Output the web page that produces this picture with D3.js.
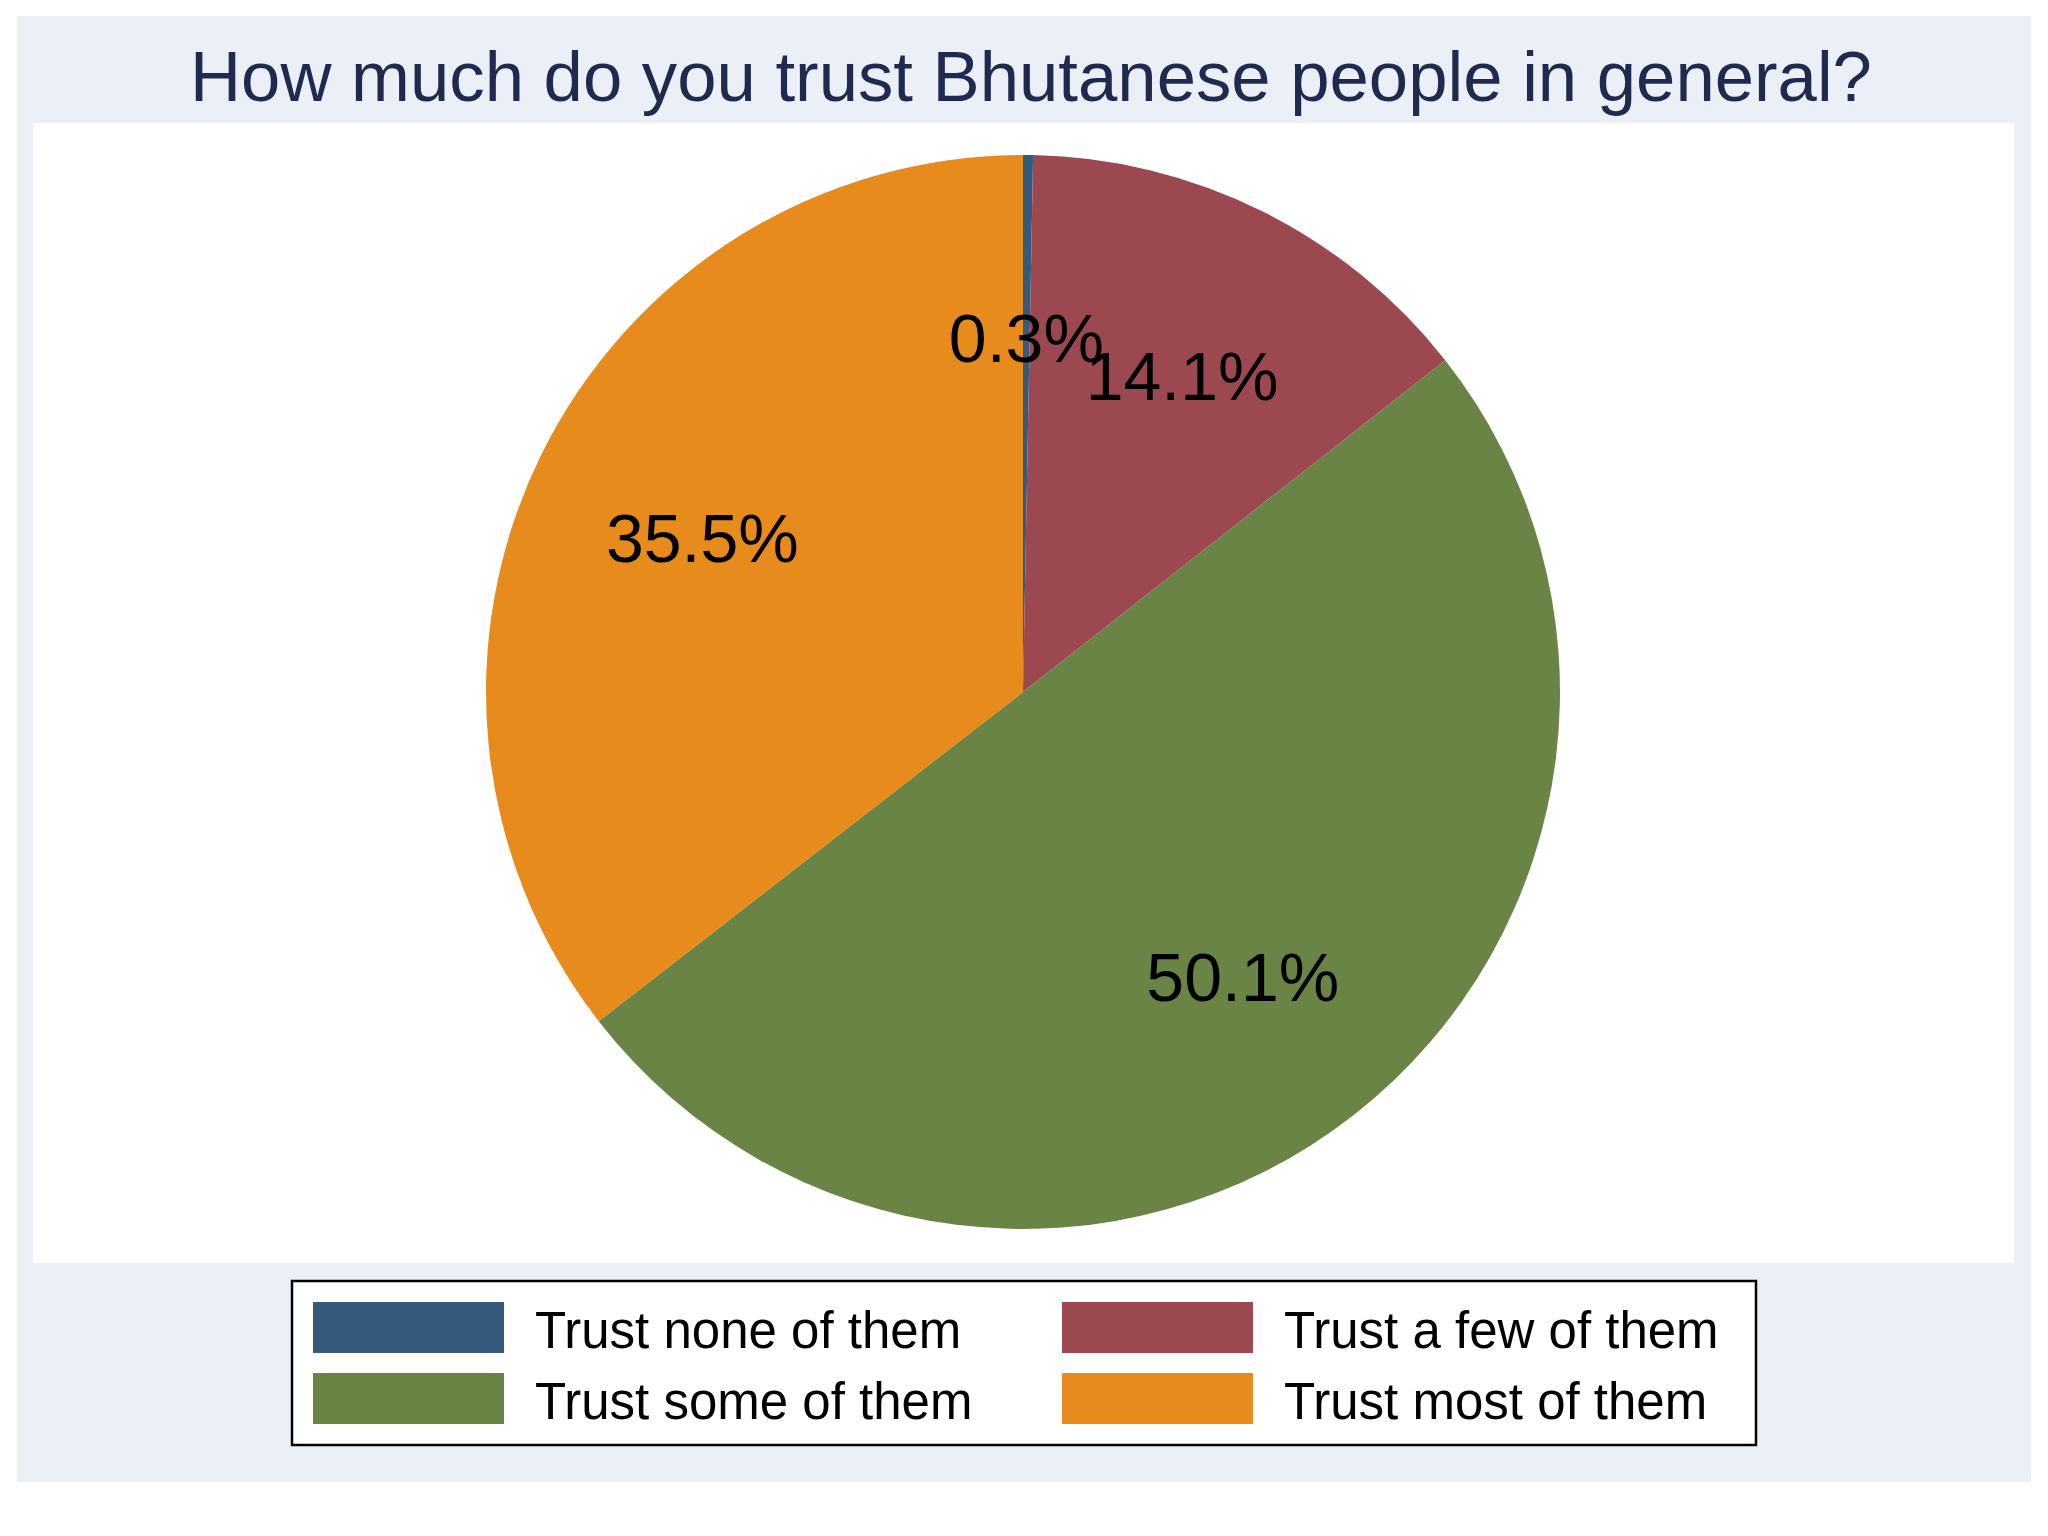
<!DOCTYPE html>
<html>
<head>
<meta charset="utf-8">
<script src="https://cdn.jsdelivr.net/npm/d3@7"></script>
<style>
  body { margin: 0; background: #fff; }
  text { font-family: "Liberation Sans", Arial, sans-serif; }
</style>
</head>
<body>
<div class="chart"></div>
<script>
// data (percent of respondents)
var categories = ["Trust none of them", "Trust a few of them", "Trust some of them", "Trust most of them"];
var shares = [0.3, 14.1, 50.1, 35.5];
var sliceLabels = ["0.3%", "14.1%", "50.1%", "35.5%"];
var colors = ["#345a7e", "#9c4851", "#6a8446", "#e68b1c"];
var title = "How much do you trust Bhutanese people in general?";

var svgWidth = 2048;
var svgHeight = 1536;

var svg = d3.select(".chart")
  .append("svg")
  .attr("width", svgWidth)
  .attr("height", svgHeight);

// graph region + plot region
svg.append("rect")
  .attr("x", 17).attr("y", 16)
  .attr("width", 2014).attr("height", 1466)
  .attr("fill", "#eaf0f5");

svg.append("rect")
  .attr("x", 33).attr("y", 123)
  .attr("width", 1981).attr("height", 1140)
  .attr("fill", "#ffffff");

svg.append("text")
  .attr("x", 1031)
  .attr("y", 101)
  .attr("text-anchor", "middle")
  .attr("font-size", 70.7)
  .attr("fill", "#1f2a4f")
  .text(title);

// pie
var cx = 1023, cy = 692, radius = 537;
var slices = d3.pie().sort(null).value(d => d)(shares);

var arc = d3.arc().innerRadius(0).outerRadius(radius);
var labelArc = d3.arc().innerRadius(radius * 0.665).outerRadius(radius * 0.665);

var pieGroup = svg.append("g")
  .attr("transform", `translate(${cx}, ${cy})`);

pieGroup.selectAll("path")
  .data(slices)
  .enter()
  .append("path")
  .attr("d", arc)
  .attr("fill", (d, i) => colors[i]);

pieGroup.selectAll(".slice-label")
  .data(slices)
  .enter()
  .append("text")
  .attr("class", "slice-label")
  .attr("transform", d => `translate(${labelArc.centroid(d)})`)
  .attr("text-anchor", "middle")
  .attr("dy", "0.4em")
  .attr("font-size", 68)
  .attr("fill", "#000")
  .text((d, i) => sliceLabels[i]);

// legend
var legend = svg.append("g");

legend.append("rect")
  .attr("x", 292).attr("y", 1281)
  .attr("width", 1464)
  .attr("height", 164)
  .attr("fill", "#fff")
  .attr("stroke", "#000")
  .attr("stroke-width", 2.5);

var colX = [313, 1062];
var rowY = [1302, 1373];

var items = legend.selectAll(".item")
  .data(categories)
  .enter()
  .append("g")
  .attr("class", "item")
  .attr("transform", (d, i) => `translate(${colX[i % 2]}, ${rowY[Math.floor(i / 2)]})`);

items.append("rect")
  .attr("width", 191)
  .attr("height", 51)
  .attr("fill", (d, i) => colors[i]);

items.append("text")
  .attr("x", 222)
  .attr("y", 46)
  .attr("font-size", 51)
  .attr("fill", "#000")
  .text(d => d);
</script>
</body>
</html>
